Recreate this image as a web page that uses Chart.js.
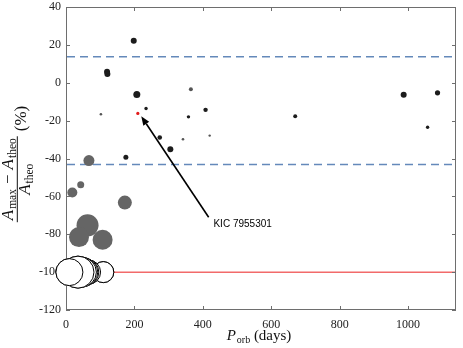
<!DOCTYPE html>
<html>
<head>
<meta charset="utf-8">
<script src="https://cdn.jsdelivr.net/npm/chart.js@4.4.0/dist/chart.umd.min.js"></script>
<style>
  html, body { margin: 0; padding: 0; background: #fff; }
  #wrap { width: 463px; height: 348px; }
</style>
</head>
<body>
<div id="wrap"><canvas id="chart"></canvas></div>
<script>
// orbital period (days) vs (Amax - Atheo)/Atheo (%)
// marker size ~ third quantity, kept per group
const darkX = [198, 120, 121, 207, 234, 175, 274, 305, 358, 408, 670, 987, 1057, 1086];
const darkY = [22.2, 5.8, 4.6, -6.2, -13.6, -39.4, -28.9, -35.1, -18.0, -14.3, -17.7, -6.4, -23.5, -5.3];
const darkSize = [3, 3, 3, 3.5, 1.7, 2.5, 2.3, 3, 1.7, 2.2, 2, 3, 1.7, 2.6];

const greyX = [102, 342, 365, 420];
const greyY = [-16.6, -29.8, -3.4, -27.9];
const greySize = [1.3, 1.3, 2, 1.2];

const bigX = [67, 18.5, 43, 172, 63, 38, 107];
const bigY = [-41.1, -58, -53.8, -63.3, -75.3, -81.5, -82.9];
const bigSize = [5.5, 5, 3.5, 7, 11, 10, 10];

// drawn right to left so the leftmost ends up on top
const whiteX = [109, 66, 58, 52, 45, 35, 10];
const whiteY = [-100, -100, -100, -100, -100, -100, -100];
const whiteSize = [10.5, 12, 13, 14, 15, 16, 13.5];

const kicX = [210];
const kicY = [-16.2];
const kicSize = [1.6];

const dashedLines = [13.7, -43.2];
const limitLine = -100;

const xMin = 0, xMax = 1140, xStep = 200, xLastTick = 1000;
const yMin = -120, yMax = 40, yStep = 20;

const kicLabel = 'KIC 7955301';
const arrowFrom = [417, -71];
const arrowTo = [220, -17.7];
const labelAt = [431, -74.5];

function pts(xs, ys, rs) {
  return xs.map((x, i) => ({ x: x, y: ys[i], r: rs[i] }));
}

const serif = '"Liberation Serif", "DejaVu Serif", serif';

function drawFrame(chart) {
  const { ctx, chartArea: a, scales: { x, y } } = chart;
  ctx.save();
  ctx.strokeStyle = '#6e6e6e';
  ctx.lineWidth = 1;
  ctx.setLineDash([]);
  ctx.strokeRect(a.left + 0.5, a.top + 0.5, a.right - a.left - 1, a.bottom - a.top - 1);
  ctx.beginPath();
  for (let v = xMin; v <= xLastTick; v += xStep) {
    const px = Math.round(x.getPixelForValue(v)) + 0.5;
    ctx.moveTo(px, a.bottom); ctx.lineTo(px, a.bottom - 4);
    ctx.moveTo(px, a.top); ctx.lineTo(px, a.top + 4);
  }
  for (let v = yMin; v <= yMax; v += yStep) {
    const py = Math.round(y.getPixelForValue(v)) + 0.5;
    ctx.moveTo(a.left, py); ctx.lineTo(a.left + 4, py);
    ctx.moveTo(a.right, py); ctx.lineTo(a.right - 4, py);
  }
  ctx.stroke();
  ctx.restore();
  // white markers sit over the left axis line
  try {
    chart.getDatasetMeta(0).data.forEach(el => el.draw(ctx, a));
  } catch (e) {}
}

const decor = {
  id: 'decor',
  beforeDatasetsDraw(chart) {
    const { ctx, chartArea: a, scales: { y } } = chart;
    ctx.save();
    ctx.beginPath();
    ctx.rect(a.left, a.top, a.right - a.left, a.bottom - a.top);
    ctx.clip();
    ctx.strokeStyle = '#6489ba';
    ctx.lineWidth = 1.6;
    ctx.setLineDash([8, 5]);
    dashedLines.forEach(v => {
      const py = y.getPixelForValue(v);
      ctx.beginPath();
      ctx.moveTo(a.left + 1, py);
      ctx.lineTo(a.right - 1, py);
      ctx.stroke();
    });
    ctx.setLineDash([]);
    ctx.strokeStyle = '#f26a6a';
    ctx.lineWidth = 1.5;
    const py = y.getPixelForValue(limitLine);
    ctx.beginPath();
    ctx.moveTo(a.left + 1, py);
    ctx.lineTo(a.right - 1, py);
    ctx.stroke();
    ctx.restore();
  },
  afterDatasetsDraw(chart) {
    const { ctx, scales: { x, y } } = chart;
    ctx.save();
    const x0 = x.getPixelForValue(arrowFrom[0]), y0 = y.getPixelForValue(arrowFrom[1]);
    const x1 = x.getPixelForValue(arrowTo[0]), y1 = y.getPixelForValue(arrowTo[1]);
    const ang = Math.atan2(y1 - y0, x1 - x0);
    const hl = 9, hw = 3.5;
    const bx = x1 - hl * Math.cos(ang), by = y1 - hl * Math.sin(ang);
    ctx.strokeStyle = '#000';
    ctx.fillStyle = '#000';
    ctx.lineWidth = 1.6;
    ctx.beginPath();
    ctx.moveTo(x0, y0);
    ctx.lineTo(bx, by);
    ctx.stroke();
    ctx.beginPath();
    ctx.moveTo(x1, y1);
    ctx.lineTo(bx + hw * Math.sin(ang), by - hw * Math.cos(ang));
    ctx.lineTo(bx - hw * Math.sin(ang), by + hw * Math.cos(ang));
    ctx.closePath();
    ctx.fill();
    ctx.font = '10px "Liberation Sans", Arial, sans-serif';
    ctx.textAlign = 'left';
    ctx.textBaseline = 'middle';
    ctx.fillText(kicLabel, x.getPixelForValue(labelAt[0]), y.getPixelForValue(labelAt[1]));
    ctx.restore();
  },
  afterDraw(chart) {
    const { ctx, chartArea: a } = chart;
    drawFrame(chart);
    ctx.save();
    ctx.fillStyle = '#111';
    ctx.textBaseline = 'alphabetic';
    ctx.textAlign = 'left';

    // x title: P_orb (days)
    let big = 'italic 15px ' + serif, sub = '10px ' + serif, rom = '15px ' + serif;
    ctx.font = big; const wP = ctx.measureText('P').width;
    ctx.font = sub; const wOrb = ctx.measureText('orb').width;
    ctx.font = rom; const wDays = ctx.measureText(' (days)').width;
    let cx = (a.left + a.right) / 2 - 2 - (wP + 1 + wOrb + wDays) / 2;
    const base = 340;
    ctx.font = big; ctx.fillText('P', cx, base); cx += wP + 1;
    ctx.font = sub; ctx.fillText('orb', cx, base + 3); cx += wOrb;
    ctx.font = rom; ctx.fillText(' (days)', cx, base);

    // y title: (A_max - A_theo)/A_theo (%)
    big = 'italic 17px ' + serif; sub = '11.5px ' + serif; rom = '17px ' + serif;
    ctx.translate(17.3, 164);
    ctx.rotate(-Math.PI / 2);
    ctx.font = big; const wA = ctx.measureText('A').width;
    ctx.font = sub; const wMax = ctx.measureText('max').width, wTheo = ctx.measureText('theo').width;
    ctx.font = rom; const wMinus = ctx.measureText('\u2212').width + 10, wPct = ctx.measureText('(%)').width;
    const numW = wA + 1 + wMax + wMinus + wA + 1 + wTheo;
    const denW = wA + 1 + wTheo;
    const fracW = numW + 4;
    const gap = 5;
    const total = fracW + gap + wPct;
    const u0 = -total / 2;
    let u = u0 + 2;
    const vn = -4.3;
    ctx.font = big; ctx.fillText('A', u, vn); u += wA + 1;
    ctx.font = sub; ctx.fillText('max', u, vn + 3); u += wMax;
    ctx.font = rom; ctx.fillText('\u2212', u + 5, vn); u += wMinus;
    ctx.font = big; ctx.fillText('A', u, vn); u += wA + 1;
    ctx.font = sub; ctx.fillText('theo', u, vn + 3);
    ctx.fillRect(u0, -0.5, fracW, 1);
    u = u0 + (fracW - denW) / 2;
    const vd = 13;
    ctx.font = big; ctx.fillText('A', u, vd); u += wA + 1;
    ctx.font = sub; ctx.fillText('theo', u, vd + 3);
    ctx.font = rom; ctx.fillText('(%)', u0 + fracW + gap, 9);
    ctx.restore();
  }
};

new Chart(document.getElementById('chart'), {
  type: 'bubble',
  data: {
    datasets: [
      {
        data: pts(whiteX, whiteY, whiteSize),
        backgroundColor: '#ffffff',
        borderColor: '#000000',
        borderWidth: 1,
        clip: false,
      },
      { data: pts(bigX, bigY, bigSize), backgroundColor: '#656565', borderWidth: 0, clip: false },
      { data: pts(greyX, greyY, greySize), backgroundColor: '#555555', borderWidth: 0, clip: false },
      { data: pts(darkX, darkY, darkSize), backgroundColor: '#1c1c1c', borderWidth: 0, clip: false },
      { data: pts(kicX, kicY, kicSize), backgroundColor: '#e21b1b', borderWidth: 0, clip: false },
    ],
  },
  options: {
    responsive: true,
    maintainAspectRatio: false,
    animation: false,
    events: [],
    layout: { autoPadding: false, padding: { top: 7, right: 7, left: 0, bottom: 0 } },
    plugins: {
      legend: { display: false },
      tooltip: { enabled: false },
    },
    scales: {
      x: {
        type: 'linear',
        min: xMin,
        max: xMax,
        grid: { display: false, drawTicks: false },
        border: { display: false },
        afterBuildTicks(scale) {
          const t = [];
          for (let v = xMin; v <= xLastTick; v += xStep) t.push({ value: v });
          scale.ticks = t;
        },
        ticks: {
          padding: 8,
          maxRotation: 0,
          color: '#222',
          font: { family: serif, size: 12 },
          callback: v => String(v),
        },
        afterFit(scale) {
          scale.height = 38;
          scale.paddingLeft = 0; scale.paddingRight = 0;
        },
      },
      y: {
        type: 'linear',
        min: yMin,
        max: yMax,
        grid: { display: false, drawTicks: false },
        border: { display: false },
        ticks: {
          stepSize: yStep,
          padding: 5,
          color: '#222',
          font: { family: serif, size: 12 },
        },
        afterFit(scale) {
          scale.width = 66;
          scale.paddingTop = 0; scale.paddingBottom = 0;
        },
      },
    },
  },
  plugins: [decor],
});
</script>
</body>
</html>
